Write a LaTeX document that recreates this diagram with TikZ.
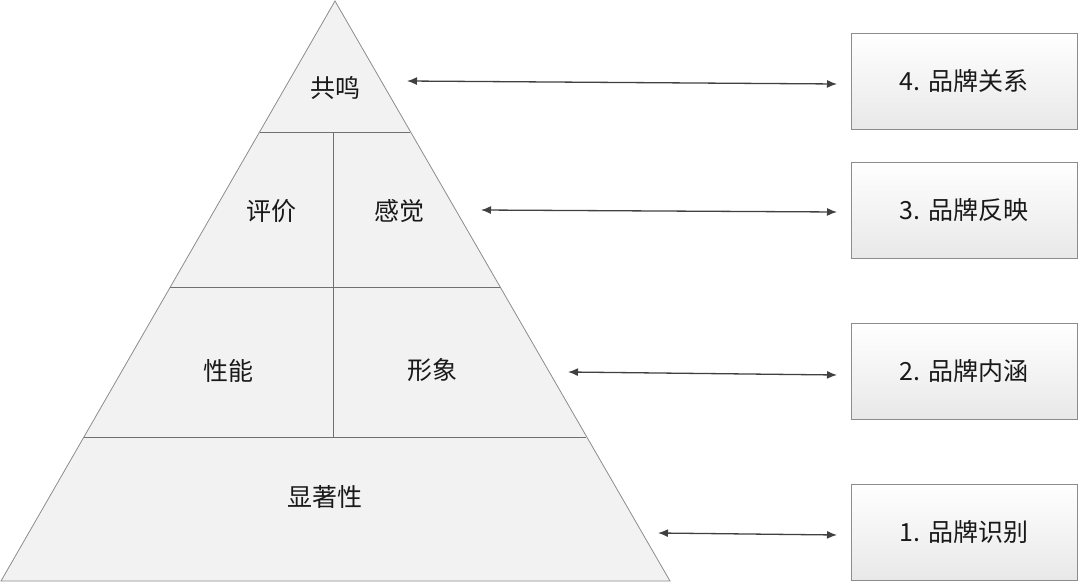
\documentclass[tikz,border=0pt]{standalone}
\usepackage{fontspec}
\setmainfont{Liberation Sans}
\newfontfamily\cjk{Noto Sans CJK SC}
\usetikzlibrary{arrows.meta}
\definecolor{edge}{HTML}{8C8C8C}
\definecolor{pfill}{HTML}{F2F2F2}
\definecolor{arr}{HTML}{404040}
\begin{document}
\begin{tikzpicture}[x=1pt,y=-1pt,
  layer/.style={draw=edge,line width=0.8pt,fill=pfill},
  divider/.style={draw=edge!80!black,line width=0.9pt},
  lbl/.style={font=\cjk\fontsize{25}{25}\selectfont,text=black!90,inner sep=0pt},
  levelbox/.style={draw=edge,line width=0.8pt,top color=white,bottom color=black!9,
    minimum width=226pt,minimum height=96pt,inner sep=0pt,
    font=\cjk\fontsize{25}{25}\selectfont,text=black!90},
  link/.style={draw=arr,line width=1.3pt,{Latex[length=10pt,width=8pt]}-{Latex[length=10pt,width=8pt]}}]
\useasboundingbox (0,0) rectangle (1080,583);
% pyramid
\fill[pfill] (335,1) -- (670,581) -- (1,581) -- cycle;
\draw[edge,line width=0.8pt] (335,1) -- (670,581) -- (1,581) -- cycle;
\draw[divider] (260,132) -- (410,132);
\draw[divider] (170.4,287) -- (499.6,287);
\draw[divider] (83.8,437) -- (586.2,437);
\draw[divider] (333,132) -- (333,437);
% labels
\node[lbl] (gm) at (335,88) {共鸣};
\node[lbl] (pj) at (271,211) {评价};
\node[lbl] (gj) at (399,211) {感觉};
\node[lbl] (xn) at (228,371) {性能};
\node[lbl] (xx) at (432,370) {形象};
\node[lbl] (xz) at (325,497) {显著性};
% boxes
\node[levelbox] (b4) at (964,81) {4. 品牌关系};
\node[levelbox] (b3) at (964,210) {3. 品牌反映};
\node[levelbox] (b2) at (964,371) {2. 品牌内涵};
\node[levelbox] (b1) at (964,532) {1. 品牌识别};
% arrows
\coordinate (a4l) at (407,81); \coordinate (a4r) at (837,84);
\coordinate (a3l) at (481,210); \coordinate (a3r) at (837,212);
\coordinate (a2l) at (568,372); \coordinate (a2r) at (837,375);
\coordinate (a1l) at (658,533); \coordinate (a1r) at (837,535);
\draw[link] (a4l) -- (a4r);
\draw[link] (a3l) -- (a3r);
\draw[link] (a2l) -- (a2r);
\draw[link] (a1l) -- (a1r);
\end{tikzpicture}
\end{document}
